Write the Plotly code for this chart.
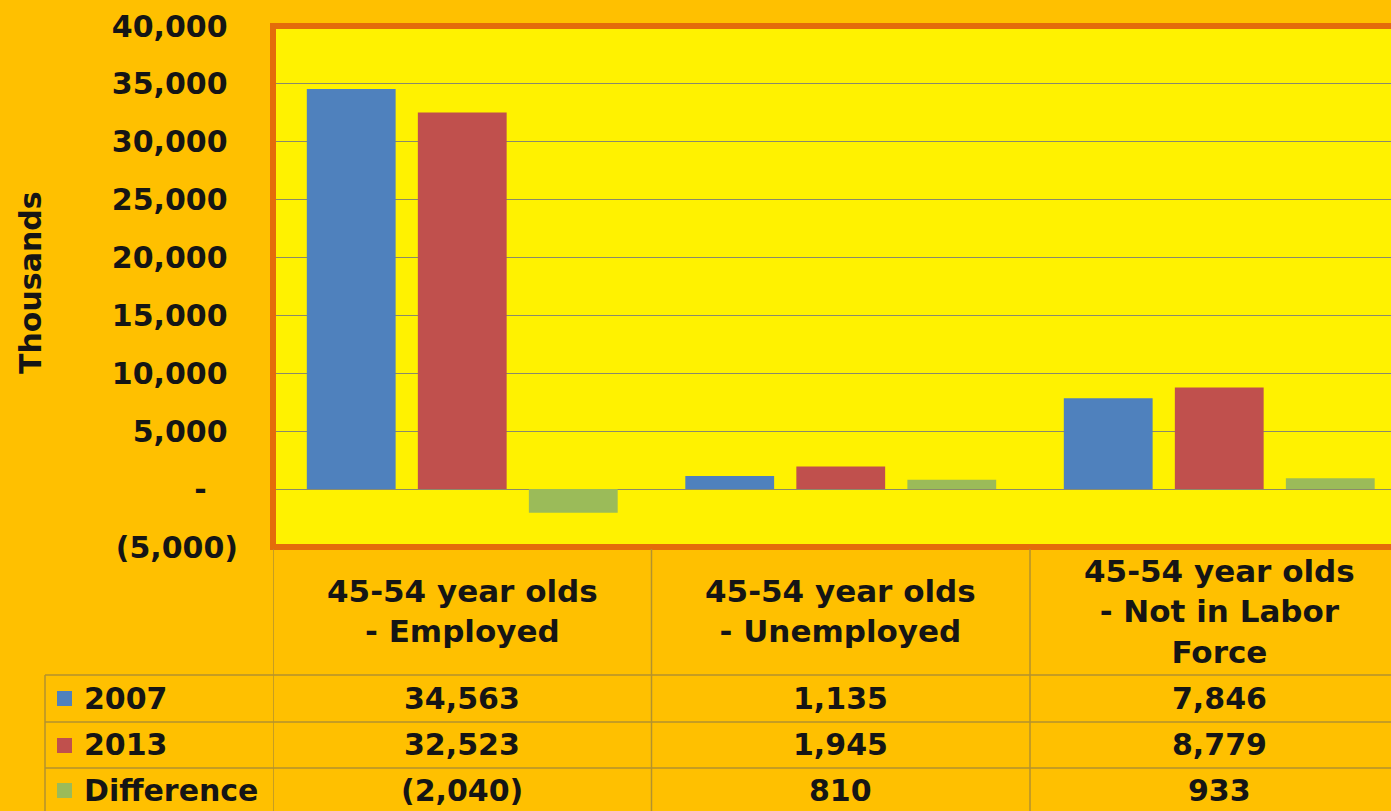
import plotly.graph_objects as go

# ---- data ---------------------------------------------------------------
categories = [
    "45-54 year olds<br>- Employed",
    "45-54 year olds<br>- Unemployed",
    "45-54 year olds<br>- Not in Labor<br>Force",
]
series_names = ["2007", "2013", "Difference"]
values_2007 = [34563, 1135, 7846]
values_2013 = [32523, 1945, 8779]
values_diff = [-2040, 810, 933]
tick_values = [-5000, 0, 5000, 10000, 15000, 20000, 25000, 30000, 35000, 40000]
tick_labels = ["(5,000)", "-", "5,000", "10,000", "15,000", "20,000",
               "25,000", "30,000", "35,000", "40,000"]

# ---- styling ------------------------------------------------------------
W, H = 1391, 811
PLOT_L, PLOT_R, PLOT_T, PLOT_B = 273, 1391, 26, 547
BG = "#FFC000"
PLOT_BG = "#FFF200"
BORDER = "#E46C0A"
COLORS = ["#4F81BD", "#C0504D", "#9BBB59"]
GRID = "#8a8a6a"
TABLE_LINE = "#b3922e"
TXT = "#151515"
FONT = "DejaVu Sans"
FS = 30

def py(p):
    """pixel row -> paper y"""
    return (PLOT_B - p) / (PLOT_B - PLOT_T)

def px(p):
    """pixel column -> paper x"""
    return (p - PLOT_L) / (PLOT_R - PLOT_L)

def fmt(v):
    s = f"{abs(v):,}"
    return f"({s})" if v < 0 else s

NB = "\u00a0"
def pad_tick(lbl):
    if lbl.startswith("("):
        return lbl
    if lbl == "-":
        return lbl + NB * 3
    return lbl + NB

xs = [0, 1, 2]
series = [values_2007, values_2013, values_diff]

fig = go.Figure()
for name, vals, col in zip(series_names, series, COLORS):
    fig.add_trace(go.Bar(x=xs, y=vals, name=name, marker=dict(color=col, line=dict(width=0))))

# category slots are ~378.5 px wide; the third slot runs slightly off the page
x_hi = -0.5 + (PLOT_R - PLOT_L) / 378.5

shapes = []
# orange frame around the plotting area (right edge runs off the page)
shapes.append(dict(type="rect", xref="paper", yref="paper", x0=0, x1=1.05, y0=0, y1=1,
                   line=dict(color=BORDER, width=6), layer="above"))
# table horizontal rules
for ry in [675, 722, 768]:
    shapes.append(dict(type="line", xref="paper", yref="paper", x0=px(45), x1=1.05,
                       y0=py(ry), y1=py(ry), line=dict(color=TABLE_LINE, width=1.5)))
# table vertical rules at category boundaries
for b in [-0.5, 0.5, 1.5]:
    shapes.append(dict(type="line", xref="x", yref="paper", x0=b, x1=b,
                       y0=py(549), y1=py(811), line=dict(color=TABLE_LINE, width=1.5)))
shapes.append(dict(type="line", xref="paper", yref="paper", x0=px(45), x1=px(45),
                   y0=py(675), y1=py(811), line=dict(color=TABLE_LINE, width=1.5)))

row_centers = [698, 745, 790]
annotations = []
# column headers
for i, c in enumerate(categories):
    annotations.append(dict(x=xs[i], xref="x", y=py(611), yref="paper", text=c,
                            showarrow=False, xanchor="center", yanchor="middle",
                            font=dict(family=FONT, size=31, color=TXT, weight="bold")))
# legend keys + row labels + cell values
for r, (name, vals, col) in enumerate(zip(series_names, series, COLORS)):
    yc = row_centers[r]
    shapes.append(dict(type="rect", xref="paper", yref="paper",
                       x0=px(57), x1=px(72), y0=py(yc + 8), y1=py(yc - 7),
                       fillcolor=col, line=dict(width=0)))
    annotations.append(dict(x=px(82), xref="paper", y=py(yc), yref="paper", text=name,
                            showarrow=False, xanchor="left", yanchor="middle",
                            font=dict(family=FONT, size=FS, color=TXT, weight="bold")))
    for i, v in enumerate(vals):
        annotations.append(dict(x=xs[i], xref="x", y=py(yc), yref="paper", text=fmt(v),
                                showarrow=False, xanchor="center", yanchor="middle",
                                font=dict(family=FONT, size=FS, color=TXT, weight="bold")))

# y-axis title
annotations.append(dict(x=px(30), xref="paper", y=py(283), yref="paper", text="Thousands",
                        textangle=-90, showarrow=False, xanchor="center", yanchor="middle",
                        font=dict(family=FONT, size=30, color=TXT, weight="bold")))

fig.update_layout(
    width=W, height=H,
    paper_bgcolor=BG, plot_bgcolor=PLOT_BG,
    margin=dict(l=PLOT_L, r=W - PLOT_R, t=PLOT_T, b=H - PLOT_B, pad=0),
    barmode="group", bargap=0.12, bargroupgap=0.2,
    showlegend=False,
    shapes=shapes, annotations=annotations,
    xaxis=dict(range=[-0.5, x_hi], showticklabels=False, showgrid=False,
               zeroline=False, showline=False, fixedrange=True),
    yaxis=dict(range=[-5000, 40000], tickvals=tick_values,
               ticktext=[pad_tick(t) for t in tick_labels],
               tickfont=dict(family=FONT, size=FS, color=TXT, weight="bold"),
               ticklabelstandoff=34,
               showgrid=True, gridcolor=GRID, gridwidth=1,
               zeroline=True, zerolinecolor=GRID, zerolinewidth=1,
               showline=False),
)

fig.write_html("out.html")
